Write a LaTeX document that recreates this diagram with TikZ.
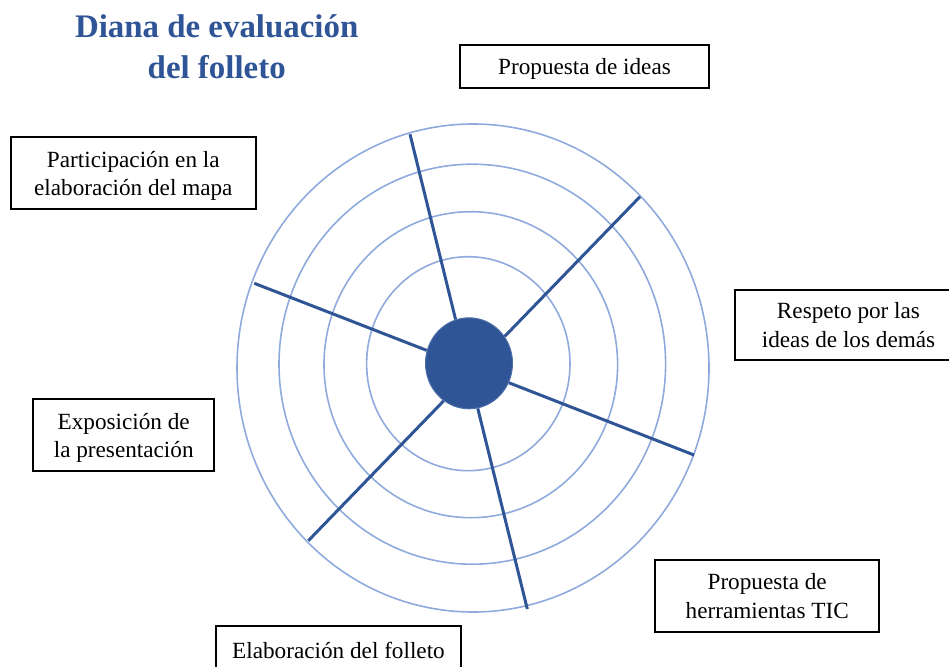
\documentclass[tikz,border=0pt]{standalone}
\usepackage{fontspec}
\setmainfont{Liberation Serif}
\usetikzlibrary{shapes.geometric}
\definecolor{dianablue}{HTML}{2F5597}
\definecolor{ringblue}{HTML}{8FAADC}
\begin{document}
\begin{tikzpicture}[x=1pt,y=-1pt]
		\tikzstyle{ring}=[draw=ringblue, line width=1.6pt]
		\tikzstyle{spoke}=[draw=dianablue, line width=3pt]
		\tikzstyle{hub}=[ellipse, fill=dianablue, draw=dianablue!85!white, line width=1pt, minimum width=87pt, minimum height=91pt, inner sep=0pt]
		\tikzstyle{criterion}=[rectangle, draw=black, line width=1.8pt, inner sep=0pt, align=center, text depth=0pt, font=\fontsize{23.2}{28.3}\selectfont]
		\tikzstyle{heading}=[align=center, text=dianablue, font=\fontsize{32.9}{41}\selectfont\bfseries]
		\useasboundingbox (0,0) rectangle (949,666);
		\begin{scope}
			\draw[ring] (473,368) ellipse [x radius=236, y radius=244];
			\draw[ring] (472.3,364.2) ellipse [x radius=193.3, y radius=200];
			\draw[ring] (470.8,364.7) ellipse [x radius=146.8, y radius=153];
			\draw[ring] (468.3,363.7) ellipse [x radius=101.7, y radius=107];
			\node [hub] (hub) at (469,363.3) {};
			\coordinate (t1) at (410,134.3);
			\coordinate (t2) at (640,196.7);
			\coordinate (t3) at (694,455);
			\coordinate (t4) at (527.3,609);
			\coordinate (t5) at (308.3,540.7);
			\coordinate (t6) at (254.3,283.3);
			\path[spoke] (hub.107) edge (t1);
			\path[spoke] (hub.37.5) edge (t2);
			\path[spoke] (hub.-26.4) edge (t3);
			\path[spoke] (hub.-79.8) edge (t4);
			\path[spoke] (hub.-124.4) edge (t5);
			\path[spoke] (hub.163.4) edge (t6);
		\end{scope}
		\node [heading] (title) at (216.7,47) {Diana de evaluación\\del folleto};
		\node [criterion, minimum width=249pt, minimum height=43.3pt] (ideas) at (584.5,66.7) {Propuesta de ideas};
		\node [criterion, minimum width=245.3pt, minimum height=72pt] (mapa) at (133.3,173.3) {Participación en la\\elaboración del mapa};
		\node [criterion, minimum width=227pt, minimum height=70pt] (respeto) at (848.5,325) {Respeto por las\\ideas de los demás};
		\node [criterion, minimum width=180.7pt, minimum height=71.7pt] (exposicion) at (123.7,435.2) {Exposición de\\la presentación};
		\node [criterion, minimum width=224.3pt, minimum height=71.7pt] (tic) at (767.2,595.8) {Propuesta de\\herramientas TIC};
		\node [criterion, minimum width=245pt, minimum height=50pt] (folleto) at (338.5,650.7) {Elaboración del folleto};
\end{tikzpicture}
\end{document}
